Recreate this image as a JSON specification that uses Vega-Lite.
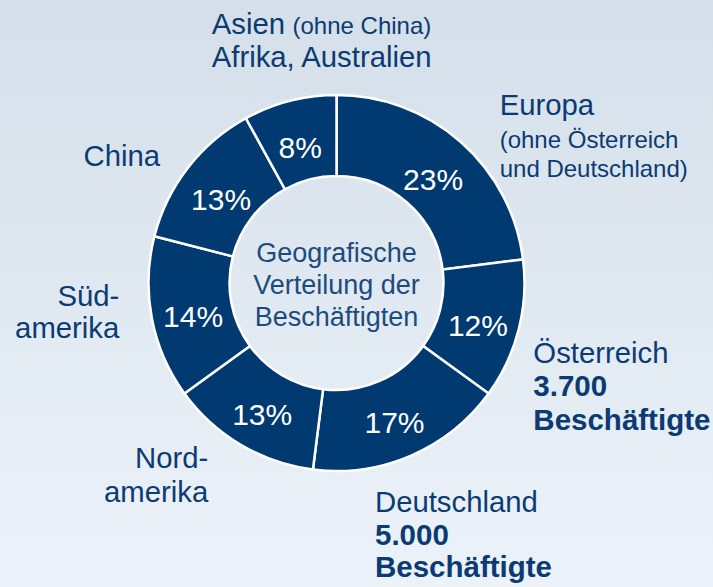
{
  "$schema": "https://vega.github.io/schema/vega-lite/v6.json",
  "width": 713,
  "height": 587,
  "padding": 0,
  "autosize": {"type": "fit", "contains": "padding"},
  "background": "#e0e8f1",
  "config": {"view": {"stroke": null}, "text": {"font": "Liberation Sans"}},
  "data": {
    "values": [
      {"n": 1, "region": "Europa", "pct": 0.23, "name": "Europa", "note": "(ohne Österreich\nund Deutschland)", "count": ""},
      {"n": 2, "region": "Österreich", "pct": 0.12, "name": "Österreich", "note": "", "count": "3.700\nBeschäftigte"},
      {"n": 3, "region": "Deutschland", "pct": 0.17, "name": "Deutschland", "note": "", "count": "5.000\nBeschäftigte"},
      {"n": 4, "region": "Nordamerika", "pct": 0.13, "name": "Nord-\namerika", "note": "", "count": ""},
      {"n": 5, "region": "Südamerika", "pct": 0.14, "name": "Süd-\namerika", "note": "", "count": ""},
      {"n": 6, "region": "China", "pct": 0.13, "name": "China", "note": "", "count": ""},
      {"n": 7, "region": "Asien", "pct": 0.08, "name": "Asien\nAfrika, Australien", "note": "(ohne China)", "count": ""}
    ]
  },
  "layer": [
    {
      "data": {"values": [{}]},
      "mark": {"type": "rect", "fill": {"gradient": "linear", "x1": 0, "y1": 0, "x2": 0, "y2": 1, "stops": [{"offset": 0, "color": "#d4dfe9"}, {"offset": 1, "color": "#ecf2f9"}]}},
      "encoding": {}
    },
    {
      "mark": {"type": "arc", "outerRadius": 188, "innerRadius": 107, "fill": "#003a70", "stroke": "#ffffff", "strokeWidth": 2.5, "xOffset": -20, "yOffset": -10.5},
      "encoding": {
        "theta": {"field": "pct", "type": "quantitative", "stack": true},
        "order": {"field": "n", "type": "quantitative"}
      }
    },
    {
      "mark": {"type": "text", "radius": 146, "fontSize": 30, "color": "#ffffff", "align": "center", "baseline": "middle", "dx": -20, "dy": -3},
      "encoding": {
        "theta": {"field": "pct", "type": "quantitative", "stack": true},
        "order": {"field": "n", "type": "quantitative"},
        "text": {"field": "pct", "type": "quantitative", "format": ".0%"}
      }
    },
    {
      "data": {"values": [{"t": "Geografische\nVerteilung der\nBeschäftigten"}]},
      "mark": {"type": "text", "fontSize": 27, "color": "#1c4b7e", "align": "center", "baseline": "alphabetic", "lineBreak": "\n", "lineHeight": 32, "dx": -20, "dy": -32},
      "encoding": {"text": {"field": "t", "type": "nominal"}}
    },
    {
      "mark": {"type": "text", "radius": 215, "fontSize": 29.3, "color": "#0b3b72", "align": "left", "baseline": "alphabetic", "dx": 1, "dy": -17},
      "encoding": {
        "theta": {"field": "pct", "type": "quantitative", "stack": true},
        "order": {"field": "n", "type": "quantitative"},
        "text": {"condition": {"test": "datum.region === 'Europa'", "field": "name"}, "value": ""}
      }
    },
    {
      "mark": {"type": "text", "radius": 215, "fontSize": 24, "color": "#0b3b72", "align": "left", "baseline": "alphabetic", "lineBreak": "\n", "lineHeight": 28.4, "dx": 1, "dy": 16},
      "encoding": {
        "theta": {"field": "pct", "type": "quantitative", "stack": true},
        "order": {"field": "n", "type": "quantitative"},
        "text": {"condition": {"test": "datum.region === 'Europa'", "field": "note"}, "value": ""}
      }
    },
    {
      "mark": {"type": "text", "radius": 215, "fontSize": 29.3, "color": "#0b3b72", "align": "left", "baseline": "alphabetic", "dx": -31.4, "dy": 15.7},
      "encoding": {
        "theta": {"field": "pct", "type": "quantitative", "stack": true},
        "order": {"field": "n", "type": "quantitative"},
        "text": {"condition": {"test": "datum.region === 'Österreich'", "field": "name"}, "value": ""}
      }
    },
    {
      "mark": {"type": "text", "radius": 215, "fontSize": 29.5, "fontWeight": "bold", "color": "#0b3b72", "align": "left", "baseline": "alphabetic", "lineBreak": "\n", "lineHeight": 34, "dx": -31.4, "dy": 49},
      "encoding": {
        "theta": {"field": "pct", "type": "quantitative", "stack": true},
        "order": {"field": "n", "type": "quantitative"},
        "text": {"condition": {"test": "datum.region === 'Österreich'", "field": "count"}, "value": ""}
      }
    },
    {
      "mark": {"type": "text", "radius": 215, "fontSize": 29.3, "color": "#0b3b72", "align": "left", "baseline": "alphabetic", "dx": -66.9, "dy": 20.9},
      "encoding": {
        "theta": {"field": "pct", "type": "quantitative", "stack": true},
        "order": {"field": "n", "type": "quantitative"},
        "text": {"condition": {"test": "datum.region === 'Deutschland'", "field": "name"}, "value": ""}
      }
    },
    {
      "mark": {"type": "text", "radius": 215, "fontSize": 29.5, "fontWeight": "bold", "color": "#0b3b72", "align": "left", "baseline": "alphabetic", "lineBreak": "\n", "lineHeight": 32, "dx": -66.9, "dy": 54.2},
      "encoding": {
        "theta": {"field": "pct", "type": "quantitative", "stack": true},
        "order": {"field": "n", "type": "quantitative"},
        "text": {"condition": {"test": "datum.region === 'Deutschland'", "field": "count"}, "value": ""}
      }
    },
    {
      "mark": {"type": "text", "radius": 215, "fontSize": 29.3, "color": "#0b3b72", "align": "right", "baseline": "alphabetic", "lineBreak": "\n", "lineHeight": 33.4, "dx": -38.8, "dy": -10.3},
      "encoding": {
        "theta": {"field": "pct", "type": "quantitative", "stack": true},
        "order": {"field": "n", "type": "quantitative"},
        "text": {"condition": {"test": "datum.region === 'Nordamerika'", "field": "name"}, "value": ""}
      }
    },
    {
      "mark": {"type": "text", "radius": 215, "fontSize": 29.3, "color": "#0b3b72", "align": "right", "baseline": "alphabetic", "lineBreak": "\n", "lineHeight": 32.6, "dx": -26, "dy": -28.1},
      "encoding": {
        "theta": {"field": "pct", "type": "quantitative", "stack": true},
        "order": {"field": "n", "type": "quantitative"},
        "text": {"condition": {"test": "datum.region === 'Südamerika'", "field": "name"}, "value": ""}
      }
    },
    {
      "mark": {"type": "text", "radius": 215, "fontSize": 29.3, "color": "#0b3b72", "align": "right", "baseline": "alphabetic", "dx": -26.6, "dy": 4.3},
      "encoding": {
        "theta": {"field": "pct", "type": "quantitative", "stack": true},
        "order": {"field": "n", "type": "quantitative"},
        "text": {"condition": {"test": "datum.region === 'China'", "field": "name"}, "value": ""}
      }
    },
    {
      "mark": {"type": "text", "radius": 215, "fontSize": 29.3, "color": "#0b3b72", "align": "left", "baseline": "alphabetic", "lineBreak": "\n", "lineHeight": 32.7, "dx": -91.3, "dy": -51.3},
      "encoding": {
        "theta": {"field": "pct", "type": "quantitative", "stack": true},
        "order": {"field": "n", "type": "quantitative"},
        "text": {"condition": {"test": "datum.region === 'Asien'", "field": "name"}, "value": ""}
      }
    },
    {
      "mark": {"type": "text", "radius": 215, "fontSize": 24, "color": "#0b3b72", "align": "left", "baseline": "alphabetic", "dx": -10.5, "dy": -51.3},
      "encoding": {
        "theta": {"field": "pct", "type": "quantitative", "stack": true},
        "order": {"field": "n", "type": "quantitative"},
        "text": {"condition": {"test": "datum.region === 'Asien'", "field": "note"}, "value": ""}
      }
    }
  ]
}
